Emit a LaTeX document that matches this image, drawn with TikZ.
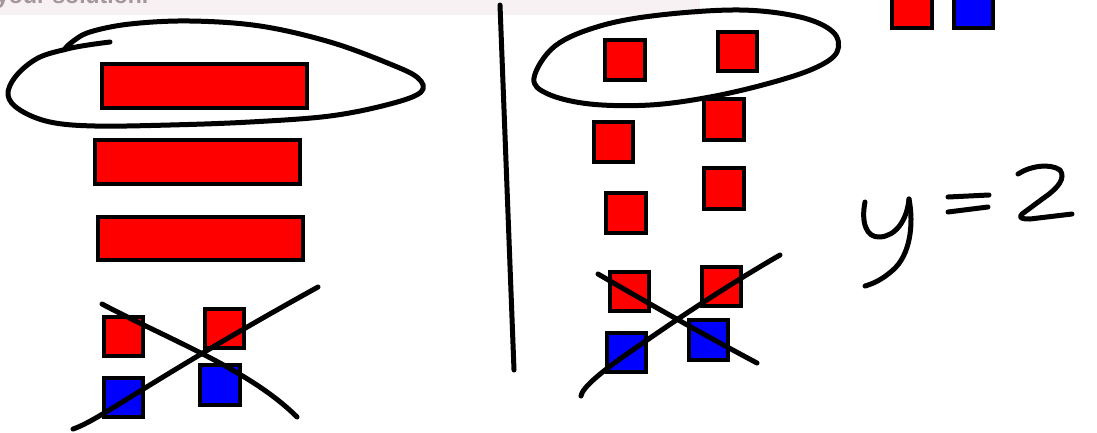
\documentclass[tikz,border=0pt]{standalone}
\usepackage{fontspec}
\setmainfont{Liberation Sans}
\begin{document}
\begin{tikzpicture}[x=1pt,y=-1pt,
  pen/.style={line width=5pt,line cap=round,line join=round,black},
  rbox/.style={draw=black,line width=4.5pt,fill={rgb,255:red,255;green,0;blue,0}},
  bbox/.style={draw=black,line width=4.5pt,fill={rgb,255:red,0;green,0;blue,255}}]
\useasboundingbox (0,0) rectangle (1097,432);
\clip (0,0) rectangle (1097,432);
% faded header strip
\fill[fill={rgb,255:red,247;green,241;blue,243}] (0,0) rectangle (700,15);
\begin{scope}
\clip (0,0) rectangle (700,15);
\node[anchor=base west,inner sep=0pt,text={rgb,255:red,165;green,150;blue,158},font=\bfseries\fontsize{23}{26}\selectfont] (hdr) at (-4,3) {your solution.};
\end{scope}
% left column
\draw[rbox] (102,64) rectangle (307,108);
\draw[rbox] (95,140) rectangle (300,184);
\draw[rbox] (98,217) rectangle (303,260);
\draw[rbox] (104,317) rectangle (143,356);
\draw[rbox] (205,309) rectangle (244,348);
\draw[bbox] (104,378) rectangle (143,417);
\draw[bbox] (200,365) rectangle (240,405);
% left loop
\draw[pen] plot[smooth,tension=0.6] coordinates {(110,42) (88,45) (67,49) (38,58) (16,76) (8,95) (20,110) (50,122) (95,126) (170,125) (250,122) (330,116) (390,104) (421,92) (418,78) (390,64) (330,42) (260,26) (190,21) (130,24) (90,32) (72,42) (64,50)};
% left cross
\draw[pen] (102,304) .. controls (170,340) and (250,370) .. (297,417);
\draw[pen] (73,429) .. controls (100,420) and (150,380) .. (318,287);
% divider
\draw[pen] (500,5) -- (514,370);
% right loop
\draw[pen] plot[smooth cycle,tension=0.6] coordinates {(555,46) (600,26) (660,15) (740,10) (800,17) (833,32) (837,52) (815,68) (770,83) (710,97) (650,105) (590,104) (548,94) (534,78)};
\draw[rbox] (605,40) rectangle (645,80);
\draw[rbox] (718,32) rectangle (757,71);
\draw[rbox] (704,99) rectangle (744,140);
\draw[rbox] (594,122) rectangle (633,162);
\draw[rbox] (606,193) rectangle (646,233);
\draw[rbox] (704,168) rectangle (744,209);
\draw[rbox] (610,272) rectangle (649,311);
\draw[rbox] (702,267) rectangle (741,306);
\draw[bbox] (607,333) rectangle (646,372);
\draw[bbox] (689,320) rectangle (728,360);
% right cross
\draw[pen] (598,274) .. controls (660,310) and (710,338) .. (757,363);
\draw[pen] (581,396) .. controls (582,388) and (600,372) .. (640,345) .. controls (690,310) and (740,278) .. (780,255);
% top-right squares
\draw[rbox] (892,-6) rectangle (932,28);
\draw[bbox] (954,-6) rectangle (993,28);
% y = 2
\draw[pen] (865,202) .. controls (861,222) and (866,238) .. (880,237) .. controls (896,236) and (907,220) .. (909,199);
\draw[pen] (909,199) .. controls (914,225) and (910,255) .. (893,270) .. controls (882,280) and (872,284) .. (865,286);
\draw[pen] (948,197) -- (989,195);
\draw[pen] (948,212) -- (988,207);
\draw[pen] (1018,174) .. controls (1030,166) and (1050,163) .. (1060,170) .. controls (1066,178) and (1058,188) .. (1045,197) -- (1022,214) .. controls (1018,218) and (1022,219) .. (1030,219) -- (1072,214);
\end{tikzpicture}
\end{document}
